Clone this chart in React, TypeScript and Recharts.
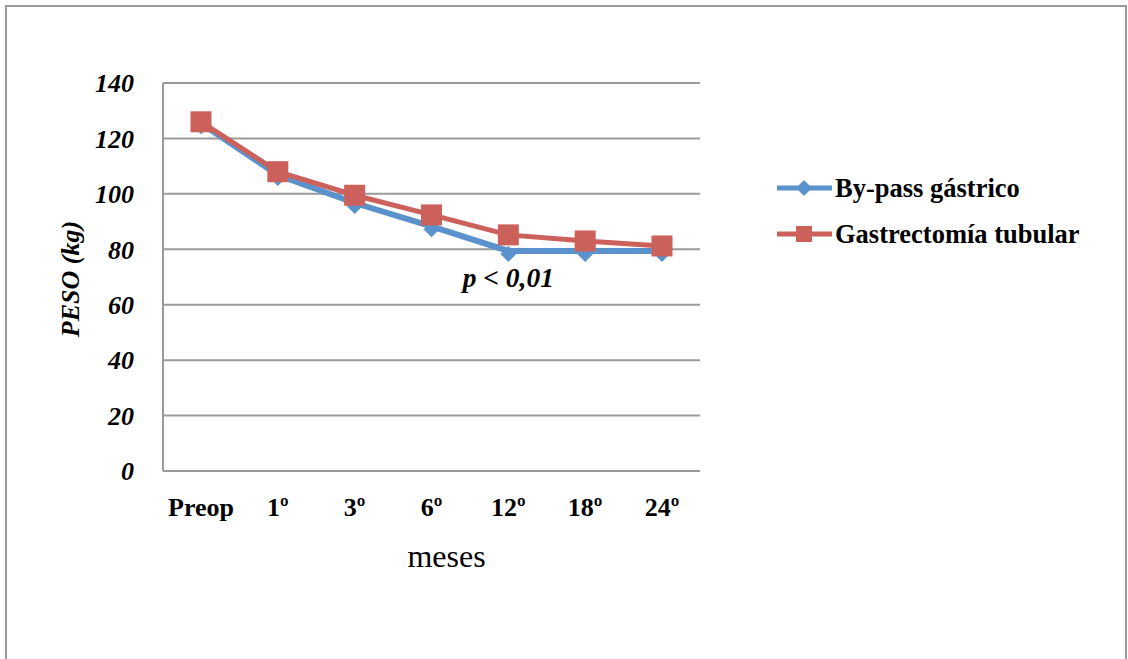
import React from "react";
import {
  LineChart,
  Line,
  CartesianGrid,
  XAxis,
  YAxis,
  ReferenceDot,
} from "recharts";

const months = ["Preop", "1º", "3º", "6º", "12º", "18º", "24º"];
const bypass = [125.5, 106.8, 96.7, 88.3, 79.4, 79.4, 79.4];
const tubular = [126, 108, 99.5, 92.4, 85.2, 83, 81.2];
const yTicks = [0, 20, 40, 60, 80, 100, 120, 140];

const SERIF = '"Liberation Serif", "Times New Roman", serif';
const BLUE = "#5A92CD";
const RED = "#CC605A";
const GRID = "#9A9A9A";

const data = months.map((m, i) => ({
  month: m,
  bypass: bypass[i],
  tubular: tubular[i],
}));

const Diamond = (props: any) => {
  const { cx, cy } = props;
  if (cx == null || cy == null) return null;
  const s = 8;
  return (
    <polygon
      points={`${cx},${cy - s + 3} ${cx + s},${cy + 3} ${cx},${cy + s + 3} ${cx - s},${cy + 3}`}
      fill={BLUE}
    />
  );
};

const Square = (props: any) => {
  const { cx, cy } = props;
  if (cx == null || cy == null) return null;
  return <rect x={cx - 10.5} y={cy - 10.5} width={21} height={21} fill={RED} />;
};

const legendItems = [
  { name: "By-pass gástrico", color: BLUE, shape: "diamond" },
  { name: "Gastrectomía tubular", color: RED, shape: "square" },
];

const ChartLegend = () => (
  <div
    style={{
      position: "absolute",
      left: 776,
      top: 165,
      fontFamily: SERIF,
      fontWeight: "bold",
      fontSize: 26.5,
      color: "#000",
    }}
  >
    {legendItems.map((it) => (
      <div
        key={it.name}
        style={{ display: "flex", alignItems: "center", height: 46 }}
      >
        <svg width={58} height={24} style={{ marginRight: 1 }}>
          <line x1={1} y1={12} x2={56} y2={12} stroke={it.color} strokeWidth={5} />
          {it.shape === "diamond" ? (
            <polygon points="28,4 36,12 28,20 20,12" fill={it.color} />
          ) : (
            <rect x={20} y={4} width={16} height={16} fill={it.color} />
          )}
        </svg>
        <span style={{ whiteSpace: "nowrap" }}>{it.name}</span>
      </div>
    ))}
  </div>
);

const YLabel = (props: any) => {
  const vb = props.viewBox || {};
  const x = vb.x + 15;
  const y = vb.y + vb.height / 2 + 2;
  return (
    <text
      x={x}
      y={y}
      transform={`rotate(-90, ${x}, ${y})`}
      textAnchor="middle"
      dominantBaseline="central"
      fontFamily={SERIF}
      fontStyle="italic"
      fontWeight="bold"
      fontSize={26}
      fill="#000"
    >
      PESO (kg)
    </text>
  );
};

const XLabel = (props: any) => {
  const vb = props.viewBox || {};
  return (
    <text
      x={vb.x + vb.width / 2 + 15}
      y={vb.y + 96}
      textAnchor="middle"
      fontFamily={SERIF}
      fontSize={32}
      fill="#000"
    >
      meses
    </text>
  );
};

export default function App() {
  return (
    <div
      style={{
        position: "fixed",
        left: 0,
        top: 0,
        width: 1128,
        height: 659,
        background: "#fff",
        overflow: "hidden",
      }}
    >
      <div
        style={{
          position: "absolute",
          left: 5,
          top: 5,
          width: 1118,
          height: 700,
          border: `2px solid ${GRID}`,
        }}
      />
      <div style={{ position: "absolute", left: 0, top: 0 }}>
        <LineChart
          width={1128}
          height={659}
          data={data}
          margin={{ top: 83, right: 428, bottom: 88, left: 55 }}
        >
          <CartesianGrid vertical={false} stroke={GRID} strokeWidth={2} />
          <XAxis
            dataKey="month"
            axisLine={false}
            tickLine={false}
            tickSize={0}
            tickMargin={27}
            height={100}
            interval={0}
            padding={{ left: 38, right: 38 }}
            tick={{
              fill: "#000",
              fontFamily: SERIF,
              fontWeight: "bold",
              fontSize: 26,
            }}
            label={<XLabel />}
          />
          <YAxis
            domain={[0, 140]}
            ticks={yTicks}
            width={108}
            axisLine={{ stroke: GRID, strokeWidth: 2 }}
            tickLine={false}
            tickSize={0}
            tickMargin={29}
            tick={{
              fill: "#000",
              fontFamily: SERIF,
              fontWeight: "bold",
              fontStyle: "italic",
              fontSize: 26,
            }}
            label={<YLabel />}
          />
          <Line
            type="linear"
            dataKey="bypass"
            name="By-pass gástrico"
            stroke={BLUE}
            strokeWidth={6}
            dot={<Diamond />}
            activeDot={false}
            isAnimationActive={false}
          />
          <Line
            type="linear"
            dataKey="tubular"
            name="Gastrectomía tubular"
            stroke={RED}
            strokeWidth={5}
            dot={<Square />}
            activeDot={false}
            isAnimationActive={false}
          />
          <ReferenceDot
            x="12º"
            y={70}
            r={0}
            stroke="none"
            label={{
              value: "p < 0,01",
              position: "center",
              fill: "#000",
              fontFamily: SERIF,
              fontWeight: "bold",
              fontStyle: "italic",
              fontSize: 27.5,
            }}
          />
        </LineChart>
      </div>
      <ChartLegend />
    </div>
  );
}
